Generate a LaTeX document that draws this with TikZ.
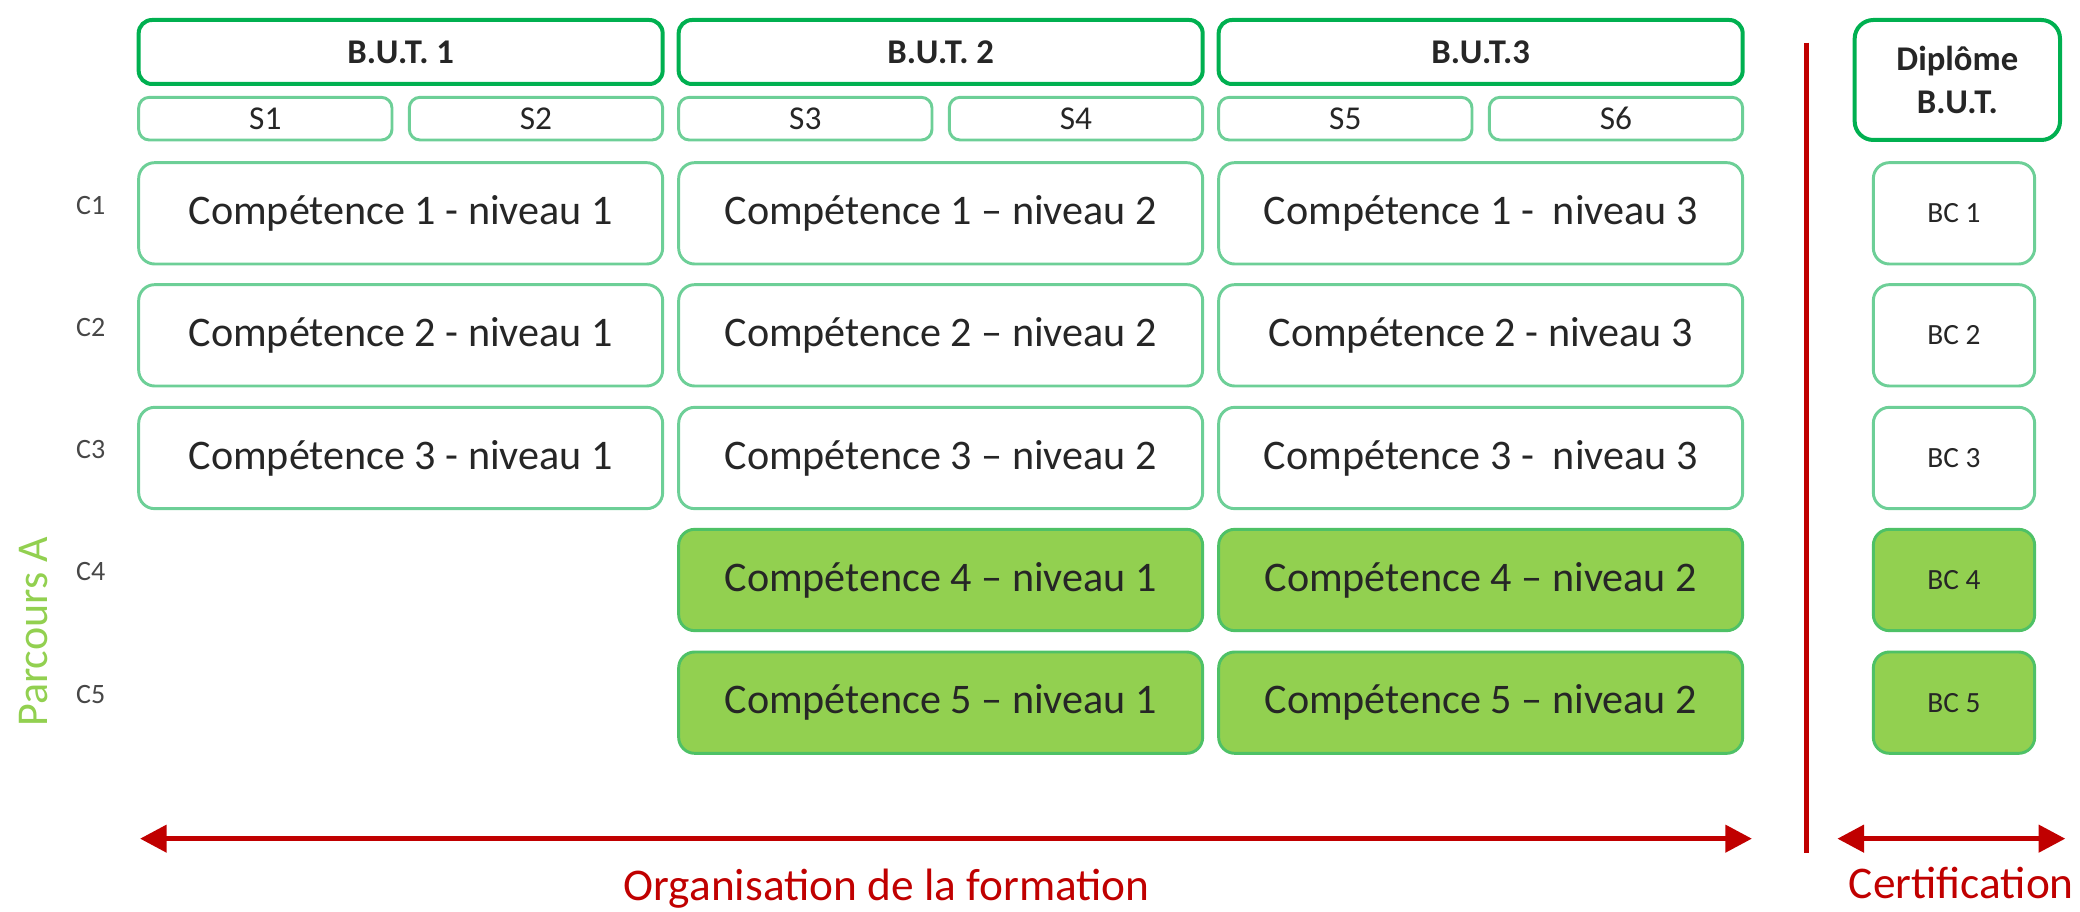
\documentclass[tikz,border=0pt]{standalone}
\usepackage{fontspec}
\setmainfont{Carlito}
\usetikzlibrary{arrows.meta}
\definecolor{butgreen}{HTML}{00B050}
\definecolor{boxline}{HTML}{6DCF97}
\definecolor{parcfill}{HTML}{92D050}
\definecolor{parcline}{HTML}{4EC166}
\definecolor{formred}{HTML}{C00000}
\definecolor{txtgray}{HTML}{262626}
\tikzset{
  butbox/.style={draw=butgreen, line width=1.5pt, rounded corners=5pt,
    minimum width=196.5pt, minimum height=24pt, inner sep=0pt,
    text=txtgray, font=\fontsize{13}{16}\selectfont\bfseries},
  sembox/.style={draw=boxline, line width=1.1pt, rounded corners=4pt,
    minimum width=95pt, minimum height=16pt, inner sep=0pt,
    text=txtgray, font=\fontsize{12.5}{14}\selectfont},
  compbox/.style={draw=boxline, line width=1.1pt, rounded corners=6pt,
    minimum width=196.5pt, minimum height=38pt, inner sep=0pt,
    text=txtgray, font=\fontsize{15.8}{19}\selectfont},
  parcbox/.style={compbox, draw=parcline, fill=parcfill, text=black!85},
  bcbox/.style={compbox, minimum width=60.5pt, font=\fontsize{11}{13}\selectfont},
  bcparc/.style={parcbox, minimum width=60.5pt, font=\fontsize{11}{13}\selectfont},
  dipbox/.style={butbox, minimum width=77pt, minimum height=45pt,
    align=center, rounded corners=7pt},
  rowlab/.style={text=txtgray!85, font=\fontsize{10.5}{12}\selectfont},
  redarrow/.style={draw=formred, line width=2pt,
    {Triangle[length=10pt,width=10pt]}-{Triangle[length=10pt,width=10pt]}},
  redlab/.style={text=formred, font=\fontsize{17}{20}\selectfont, anchor=base}
}
\begin{document}
\begin{tikzpicture}[x=0.5pt,y=-0.5pt]
  \useasboundingbox (0,0) rectangle (1560,684);
  %% Years and semesters
  \foreach \n/\x/\lab in {1/300.5/B.U.T. 1,2/705.5/B.U.T. 2,3/1110.5/B.U.T.3}
    \node[butbox] (but\n) at (\x,39) {\lab};
  \foreach \s/\x in {1/199,2/402,3/604,4/807,5/1009,6/1212}
    \node[sembox] (s\s) at (\x,89) {S\s};
  %% Common competences
  \foreach \r/\y/\mid/\last in {1/160/–/-~,2/251.5/–/-,3/343.5/–/-~}{
    \node[rowlab] (c\r) at (68,\y-6) {C\r};
    \node[compbox] (comp\r-1) at (300.5,\y) {Compétence \r{} - niveau 1};
    \node[compbox] (comp\r-2) at (705.5,\y) {Compétence \r{} \mid{} niveau 2};
    \node[compbox] (comp\r-3) at (1110.5,\y) {Compétence \r{} \last{} niveau 3};
    \node[bcbox] (bc\r) at (1465.5,\y) {BC \r};
  }
  %% Parcours A
  \foreach \r/\y in {4/435,5/527}{
    \node[rowlab] (c\r) at (68,\y-6) {C\r};
    \node[parcbox] (comp\r-2) at (705.5,\y) {Compétence \r{} – niveau 1};
    \node[parcbox] (comp\r-3) at (1110.5,\y) {Compétence \r{} – niveau 2};
    \node[bcparc] (bc\r) at (1465.5,\y) {BC \r};
  }
  \node[rotate=90, text=parcfill, font=\fontsize{16.5}{18}\selectfont]
    (parc) at (25,474) {Parcours A};
  %% Diploma
  \node[dipbox] (dip) at (1468,60) {Diplôme\\B.U.T.};
  %% Bottom arrows
  \coordinate (orgL) at (105,629);
  \coordinate (orgR) at (1314,629);
  \coordinate (certL) at (1378,629);
  \coordinate (certR) at (1549,629);
  \coordinate (sepT) at (1355,32);
  \coordinate (sepB) at (1355,640);
  \draw[redarrow] (orgL) -- (orgR);
  \draw[redarrow] (certL) -- (certR);
  \draw[formred, line width=2pt] (sepT) -- (sepB);
  \node[redlab] (org) at (665,675) {Organisation de la formation};
  \node[redlab] (cert) at (1471,674) {Certification};
\end{tikzpicture}
\end{document}
